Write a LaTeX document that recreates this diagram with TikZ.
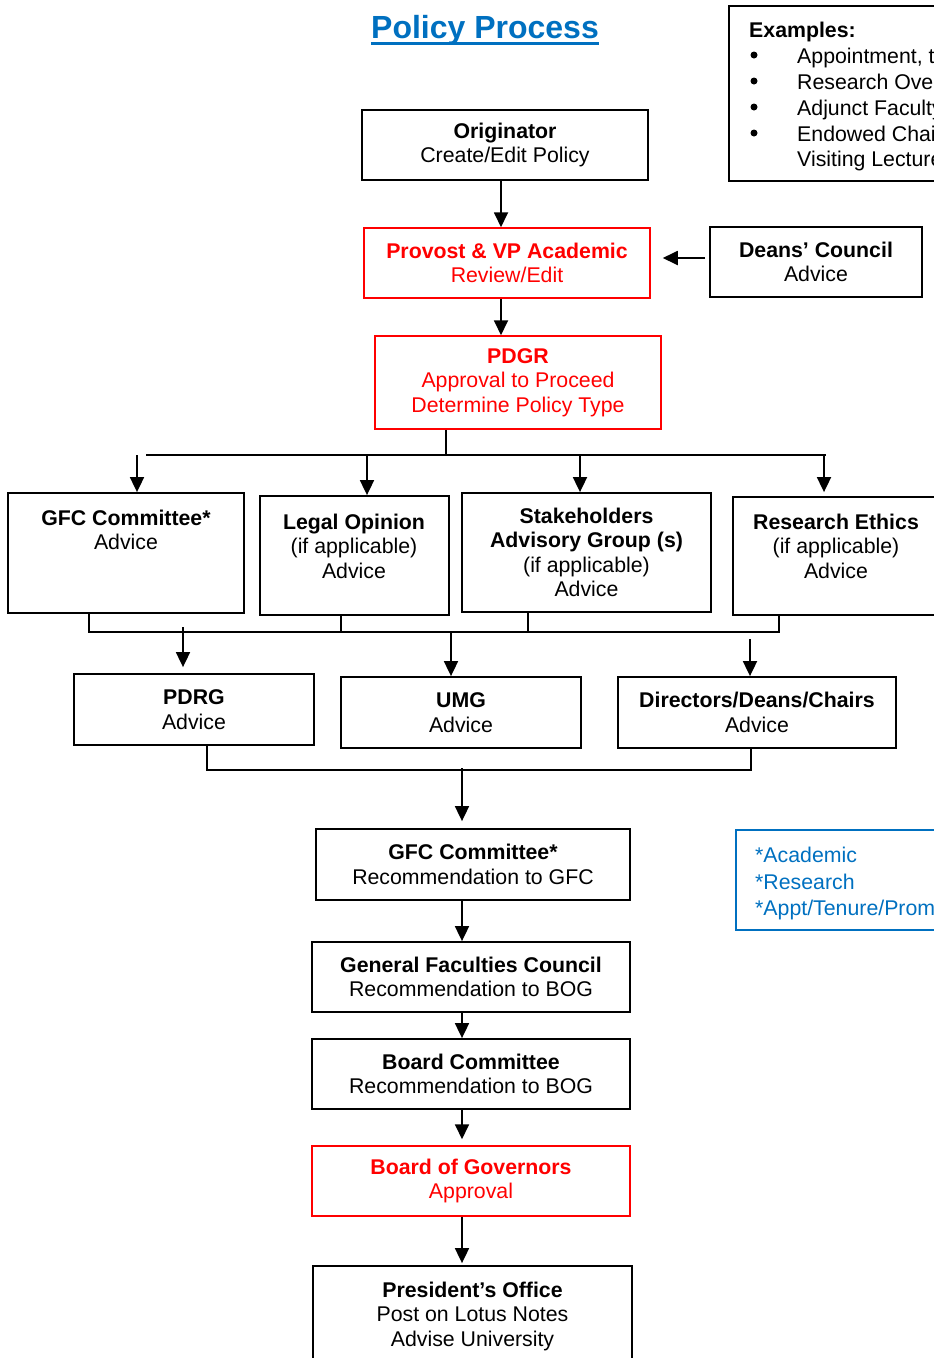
\documentclass[tikz,border=0pt]{standalone}
\usepackage{fontspec}
\setmainfont{Liberation Sans}
\usetikzlibrary{arrows.meta}
\definecolor{docblue}{RGB}{0,112,192}
\definecolor{docred}{RGB}{255,0,0}

\begin{document}
\begin{tikzpicture}[x=1pt,y=-1pt,
  every node/.style={font=\fontsize{21.3}{24.5}\selectfont, inner sep=0pt},
  box/.style={draw=black, line width=1.8pt, align=center},
  redbox/.style={draw=docred, text=docred, line width=1.5pt, align=center},
  bluebox/.style={draw=docblue, line width=1.8pt},
  bulletdot/.style={circle, fill=black, minimum size=7pt},
  txt/.style={align=center},
  conn/.style={line width=1.8pt},
  arr/.style={conn, -{Triangle[length=15pt,width=14pt]}},
]
\useasboundingbox (0,0) rectangle (934,1358);
\clip (0,0) rectangle (934,1358);

% title
\node[text=docblue, font=\bfseries\fontsize{32}{36}\selectfont, anchor=base] (title) at (485,38) {Policy Process};
\draw[docblue, line width=3pt] ([yshift=-5pt]title.base west) -- ([yshift=-5pt]title.base east);

% examples panel
\node[box, anchor=north west, minimum width=320, minimum height=175] (ex) at (728,5) {};
\node[anchor=base west, font=\bfseries\fontsize{21.3}{24.5}\selectfont] (exh) at (749,37) {Examples:};
\foreach \i/\t/\yy in {1/{Appointment, tenure}/63, 2/{Research Oversight}/89, 3/{Adjunct Faculty}/115, 4/{Endowed Chairs/}/141} {
  \node[bulletdot] (exb\i) at (754,\yy-8) {};
  \node[anchor=base west] (ext\i) at (797,\yy) {\t};
}
\node[anchor=base west] (ext5) at (797,166) {Visiting Lecturers};

% main chain, top
\node[box, minimum width=286, minimum height=70] (orig) at (505,145) {\textbf{Originator}\\Create/Edit Policy};
\node[redbox, minimum width=286, minimum height=70] (prov) at (507,263) {\textbf{Provost \& VP Academic}\\Review/Edit};
\node[box, minimum width=212, minimum height=70] (deans) at (816,262) {\textbf{Deans’ Council}\\Advice};
\node[redbox, minimum width=286, minimum height=93] (pdgr) at (518,382.5) {\textbf{PDGR}\\Approval to Proceed\\Determine Policy Type};

% advisory row
\node[box, minimum width=236, minimum height=120] (gfc1) at (126,553) {};
\node[txt] (gfc1t) at (126,530) {\textbf{GFC Committee*}\\Advice};
\node[box, minimum width=189, minimum height=119] (legal) at (354.5,555.5) {};
\node[txt] (legalt) at (354,546) {\textbf{Legal Opinion}\\(if applicable)\\Advice};
\node[box, minimum width=249, minimum height=119] (stake) at (586.5,552.5) {\textbf{Stakeholders}\\\textbf{Advisory Group (s)}\\(if applicable)\\Advice};
\node[box, minimum width=207, minimum height=118] (ethics) at (836.5,556) {};
\node[txt] (ethicst) at (836,546) {\textbf{Research Ethics}\\(if applicable)\\Advice};

% second advisory row
\node[box, minimum width=240, minimum height=71] (pdrg) at (194,709.5) {\textbf{PDRG}\\Advice};
\node[box, minimum width=240, minimum height=71] (umg) at (461,712.5) {\textbf{UMG}\\Advice};
\node[box, minimum width=278, minimum height=71] (dir) at (757,712.5) {\textbf{Directors/Deans/Chairs}\\Advice};

% approval chain
\node[box, minimum width=314, minimum height=71] (gfc2) at (473,864.5) {\textbf{GFC Committee*}\\Recommendation to GFC};
\node[box, minimum width=318, minimum height=70] (genfac) at (471,977) {\textbf{General Faculties Council}\\Recommendation to BOG};
\node[box, minimum width=318, minimum height=70] (boardc) at (471,1074) {\textbf{Board Committee}\\Recommendation to BOG};
\node[redbox, minimum width=318, minimum height=70] (bog) at (471,1181) {\textbf{Board of Governors}\\Approval};
\node[box, minimum width=319, minimum height=100] (pres) at (472.5,1316) {\textbf{President’s Office}\\Post on Lotus Notes\\Advise University};

% committee legend
\node[bluebox, anchor=north west, minimum width=300, minimum height=100] (legend) at (735,829) {};
\node[anchor=base west, text=docblue] (lg1) at (755,862) {*Academic};
\node[anchor=base west, text=docblue] (lg2) at (755,889) {*Research};
\node[anchor=base west, text=docblue] (lg3) at (755,915) {*Appt/Tenure/Promotion};

% connectors, top
\coordinate (xa) at (501,0);
\draw[arr] (orig.south -| xa) -- (prov.north -| xa);
\draw[arr] (prov.south -| xa) -- (pdgr.north -| xa);
\coordinate (dy) at (0,258);
\draw[arr, shorten <=4pt, shorten >=12pt] (deans.west |- dy) -- (prov.east |- dy);

% fan-out to advisory row
\coordinate (xb) at (446,455);
\coordinate (b1w) at (146,455);
\coordinate (b1e) at (826,455);
\draw[conn] (pdgr.south -| xb) -- (xb);
\draw[conn] (b1w) -- (b1e);
\coordinate (t1) at (137,455);
\coordinate (t2) at (367,455);
\coordinate (t3) at (580,455);
\coordinate (t4) at (824,455);
\draw[arr] (t1) -- (gfc1.north -| t1);
\draw[arr] (t2) -- (legal.north -| t2);
\draw[arr] (t3) -- (stake.north -| t3);
\draw[arr, shorten >=4pt] (t4) -- (ethics.north -| t4);

% collect advisory row
\coordinate (m1w) at (89,632);
\coordinate (m1e) at (779,632);
\coordinate (s2) at (341,632);
\coordinate (s3) at (528,632);
\draw[conn] (gfc1.south -| m1w) -- (m1w) -- (m1e) -- (ethics.south -| m1e);
\draw[conn] (legal.south -| s2) -- (s2);
\draw[conn] (stake.south -| s3) -- (s3);
\coordinate (d1) at (183,627);
\coordinate (d2) at (451,632);
\coordinate (d3) at (750,639);
\draw[arr, shorten >=6pt] (d1) -- (pdrg.north -| d1);
\draw[arr] (d2) -- (umg.north -| d2);
\draw[arr] (d3) -- (dir.north -| d3);

% collect second row
\coordinate (l1w) at (207,770);
\coordinate (l1e) at (751,770);
\draw[conn] (pdrg.south -| l1w) -- (l1w) -- (l1e) -- (dir.south -| l1e);
\coordinate (xc) at (462,768);
\draw[arr, shorten >=7pt] (xc) -- (gfc2.north -| xc);
\draw[arr] (gfc2.south -| xc) -- (genfac.north -| xc);
\draw[arr] (genfac.south -| xc) -- (boardc.north -| xc);
\draw[arr, shorten >=6pt] (boardc.south -| xc) -- (bog.north -| xc);
\draw[arr, shorten >=2pt] (bog.south -| xc) -- (pres.north -| xc);
\end{tikzpicture}
\end{document}
